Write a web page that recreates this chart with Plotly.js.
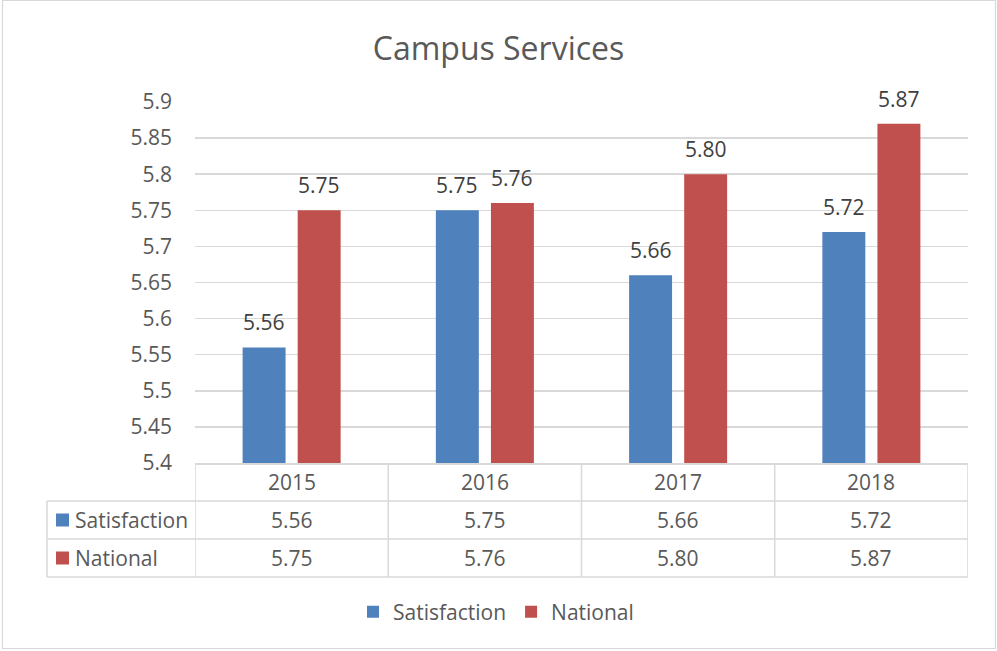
<!DOCTYPE html>
<html>
<head>
<meta charset="utf-8">
<script src="https://cdn.plot.ly/plotly-3.0.1.min.js"></script>
<style>html,body{margin:0;padding:0;background:#fff;}#chart{width:997px;height:651px;}</style>
</head>
<body>
<div id="chart"></div>
<script>
const years = ['2015', '2016', '2017', '2018'];
const satisfaction = [5.56, 5.75, 5.66, 5.72];
const national = [5.75, 5.76, 5.80, 5.87];
const seriesNames = ['Satisfaction', 'National'];
const tickVals = [5.4, 5.45, 5.5, 5.55, 5.6, 5.65, 5.7, 5.75, 5.8, 5.85, 5.9];
const tickText = ['5.4', '5.45', '5.5', '5.55', '5.6', '5.65', '5.7', '5.75', '5.8', '5.85', '5.9'];

const BLUE = '#4F81BD', RED = '#C0504D', TXT = '#595959', GRID = '#D9D9D9';
const FONT = 'Open Sans, sans-serif';

// pixel helpers (plot area: x 195..968, y 102..463)
const PL = 195, PR = 968, PT = 102, PB = 463;
const xp = p => (p - PL) / (PR - PL);
const yp = p => (PB - p) / (PB - PT);

const traces = [
  {type: 'bar', name: seriesNames[0], x: years, y: satisfaction, marker: {color: BLUE}, hoverinfo: 'y'},
  {type: 'bar', name: seriesNames[1], x: years, y: national, marker: {color: RED}, hoverinfo: 'y'}
];

const annotations = [];
const shapes = [];
const series = [satisfaction, national];
const colors = [BLUE, RED];
const slot = 27.5;

// data labels above bars (category axis: annotation x is the category index)
series.forEach((vals, s) => {
  vals.forEach((v, i) => {
    annotations.push({
      x: i, xref: 'x', y: v, yref: 'y', xshift: s === 0 ? -slot : slot, yshift: 9,
      yanchor: 'bottom', xanchor: 'center', showarrow: false,
      text: v.toFixed(2), font: {family: FONT, size: 21, color: '#404040'}
    });
  });
});

// table header
years.forEach((yr, i) => {
  annotations.push({x: i, xref: 'x', y: yp(482), yref: 'paper', yanchor: 'middle', showarrow: false,
    text: yr, font: {family: FONT, size: 21, color: TXT}});
});
// table rows
const rowY = [520, 558];
series.forEach((vals, s) => {
  annotations.push({x: xp(73), xref: 'paper', xanchor: 'left', y: yp(rowY[s]), yref: 'paper', yanchor: 'middle',
    showarrow: false, text: seriesNames[s], font: {family: FONT, size: 21, color: TXT}});
  shapes.push({type: 'rect', xref: 'paper', yref: 'paper', x0: xp(56), x1: xp(69),
    y0: yp(rowY[s] + 6.5), y1: yp(rowY[s] - 6.5), fillcolor: colors[s], line: {width: 0}});
  vals.forEach((v, i) => {
    annotations.push({x: i, xref: 'x', y: yp(rowY[s]), yref: 'paper', yanchor: 'middle', showarrow: false,
      text: v.toFixed(2), font: {family: FONT, size: 21, color: TXT}});
  });
});

// table lines
const lineStyle = {color: GRID, width: 1.5};
[501, 539, 577].forEach(p => {
  shapes.push({type: 'line', xref: 'paper', yref: 'paper', x0: xp(47), x1: 1, y0: yp(p), y1: yp(p), line: lineStyle});
});
[-0.5, 0.5, 1.5, 2.5, 3.5].forEach(xv => {
  shapes.push({type: 'line', xref: 'x', yref: 'paper', x0: xv, x1: xv, y0: yp(463), y1: yp(577), line: lineStyle});
});
shapes.push({type: 'line', xref: 'paper', yref: 'paper', x0: xp(47), x1: xp(47), y0: yp(501), y1: yp(577), line: lineStyle});
// outer chart border
shapes.push({type: 'rect', xref: 'paper', yref: 'paper', x0: xp(2.5), x1: xp(995.5), y0: yp(648.5), y1: yp(0.5),
  line: {color: GRID, width: 1.2}, fillcolor: 'rgba(0,0,0,0)'});

const layout = {
  width: 997, height: 651,
  margin: {l: PL, r: 997 - PR, t: PT, b: 651 - PB, pad: 0},
  paper_bgcolor: '#fff', plot_bgcolor: '#fff',
  font: {family: FONT, color: TXT},
  title: {text: 'Campus Services', font: {family: FONT, size: 32, color: TXT},
    x: 0.5, xref: 'container', y: 1 - 49 / 651, yref: 'container', yanchor: 'middle'},
  barmode: 'group', bargap: 0.43, bargroupgap: 0.22,
  xaxis: {type: 'category', range: [-0.5, 3.5], showticklabels: false, ticks: '', showgrid: false,
    showline: true, linecolor: GRID, linewidth: 1.5, zeroline: false, fixedrange: true},
  yaxis: {range: [5.4, 5.9], tickvals: tickVals, ticktext: tickText, showgrid: true, gridcolor: GRID, gridwidth: 1.5,
    zeroline: false, showline: false, ticks: '', ticklabelstandoff: 22,
    tickfont: {family: FONT, size: 21, color: TXT}, fixedrange: true},
  showlegend: true,
  legend: {orientation: 'h', x: xp(496), xanchor: 'center', y: yp(612), yanchor: 'middle',
    font: {family: FONT, size: 21, color: TXT}, bgcolor: 'rgba(0,0,0,0)'},
  annotations: annotations,
  shapes: shapes
};

Plotly.newPlot('chart', traces, layout, {displayModeBar: false, staticPlot: true});
</script>
</body>
</html>
